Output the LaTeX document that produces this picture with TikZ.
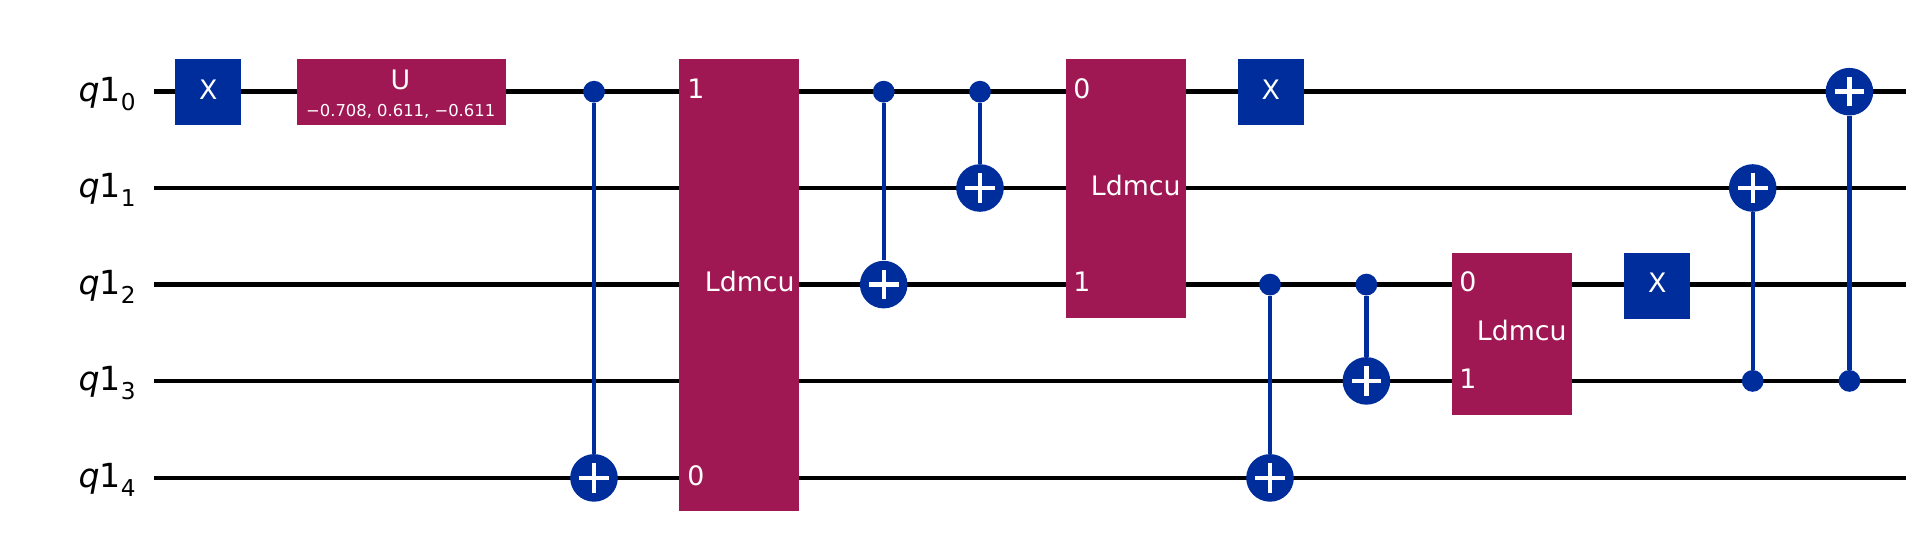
\documentclass[tikz,border=0pt]{standalone}
\usepackage{fontspec}
\setmainfont{DejaVu Sans}
\definecolor{qblue}{HTML}{002D9C}
\definecolor{qmag}{HTML}{9F1853}
\newcommand{\qlab}[1]{\fontsize{16.6}{16.6}\selectfont\textit{q}1\raisebox{-4.3pt}{\fontsize{11.6}{11.6}\selectfont #1}}
\tikzset{
  x=0.5pt,y=-0.5pt,
  wire/.style={black,line width=2.3pt},
  link/.style={qblue,line width=2.2pt},
  pauli/.style={fill=qblue,draw=none,inner sep=0pt,minimum width=33pt,minimum height=33pt},
  unitary/.style={fill=qmag,draw=none,inner sep=0pt,minimum height=33pt},
  block/.style={fill=qmag,draw=none,inner sep=0pt,minimum width=60pt},
  ctrl/.style={circle,fill=qblue,draw=none,inner sep=0pt,minimum size=10.9pt},
  targ/.style={circle,fill=qblue,draw=none,inner sep=0pt,minimum size=23.8pt,
    path picture={\draw[white,line width=2.2pt]
      ([xshift=-7.4pt]path picture bounding box.center) -- ([xshift=7.4pt]path picture bounding box.center)
      ([yshift=-7.4pt]path picture bounding box.center) -- ([yshift=7.4pt]path picture bounding box.center);}},
  gtxt/.style={text=white,inner sep=0pt,anchor=base,font=\fontsize{13.4}{13.4}\selectfont},
  ptxt/.style={text=white,inner sep=0pt,anchor=base,font=\fontsize{8.2}{8.2}\selectfont},
  wtxt/.style={text=white,inner sep=0pt,anchor=base west,font=\fontsize{13.4}{13.4}\selectfont},
  ltxt/.style={text=black,inner sep=0pt,anchor=base east},
}
\begin{document}
\begin{tikzpicture}
\useasboundingbox (0,0) rectangle (1928,551);
\fill[white] (0,0) rectangle (1928,551);
% wire ends
\foreach \i/\y in {0/91.7,1/188,2/284.6,3/380.9,4/477.9}{
  \coordinate (ws\i) at (154,\y);
  \coordinate (we\i) at (1906,\y);
}
\draw[wire] (ws0) -- (we0);
\draw[wire] (ws1) -- (we1);
\draw[wire] (ws2) -- (we2);
\draw[wire] (ws3) -- (we3);
\draw[wire] (ws4) -- (we4);
% qubit labels
\node[ltxt] (l0) at (136,101.5) {\qlab{0}};
\node[ltxt] (l1) at (136,197.5) {\qlab{1}};
\node[ltxt] (l2) at (136,294.5) {\qlab{2}};
\node[ltxt] (l3) at (136,390.5) {\qlab{3}};
\node[ltxt] (l4) at (136,487.5) {\qlab{4}};
% single-qubit gates
\node[pauli] (x1) at (208,92) {};
\node[gtxt] (x1t) at (208.3,99.3) {X};
\node[unitary,minimum width=104.5pt] (u1) at (401.5,92) {};
\node[gtxt] (u1t) at (400.5,90) {U};
\node[ptxt] (u1p) at (400.7,116.7) {−0.708, 0.611, −0.611};
\node[pauli] (x2) at (1270.5,92) {};
\node[gtxt] (x2t) at (1270.8,99.3) {X};
\node[pauli] (x3) at (1657,285.5) {};
\node[gtxt] (x3t) at (1657.3,292.5) {X};
% multi-qubit blocks
\node[block,minimum height=225.75pt] (b1) at (739.2,284.75) {};
\node[wtxt] (b1a) at (687,99) {1};
\node[wtxt] (b1b) at (687,485) {0};
\node[wtxt] (b1t) at (704.5,291.6) {Ldmcu};
\node[block,minimum height=129.5pt] (b2) at (1126,188.5) {};
\node[wtxt] (b2a) at (1073,99) {0};
\node[wtxt] (b2b) at (1073,291.6) {1};
\node[wtxt] (b2t) at (1090.5,195.7) {Ldmcu};
\node[block,minimum height=80.8pt] (b3) at (1512,333.8) {};
\node[wtxt] (b3a) at (1459,291.6) {0};
\node[wtxt] (b3b) at (1459,388) {1};
\node[wtxt] (b3t) at (1476.5,340) {Ldmcu};
% controlled-X
\node[ctrl] (c1) at (594,91.7) {};   \node[targ] (t1) at (594,477.9) {};
\node[ctrl] (c2) at (883.7,91.7) {}; \node[targ] (t2) at (883.7,284.6) {};
\node[ctrl] (c3) at (980,91.7) {};   \node[targ] (t3) at (980,188) {};
\node[ctrl] (c4) at (1270,284.6) {}; \node[targ] (t4) at (1270,477.9) {};
\node[ctrl] (c5) at (1366.4,284.6) {}; \node[targ] (t5) at (1366.4,380.9) {};
\node[ctrl] (c6) at (1752.7,380.9) {}; \node[targ] (t6) at (1752.7,188) {};
\node[ctrl] (c7) at (1849.4,380.9) {}; \node[targ] (t7) at (1849.4,91.7) {};
\draw[link] (c1) -- (t1);
\draw[link] (c2) -- (t2);
\draw[link] (c3) -- (t3);
\draw[link] (c4) -- (t4);
\draw[link] (c5) -- (t5);
\draw[link] (c6) -- (t6);
\draw[link] (c7) -- (t7);
\end{tikzpicture}
\end{document}
